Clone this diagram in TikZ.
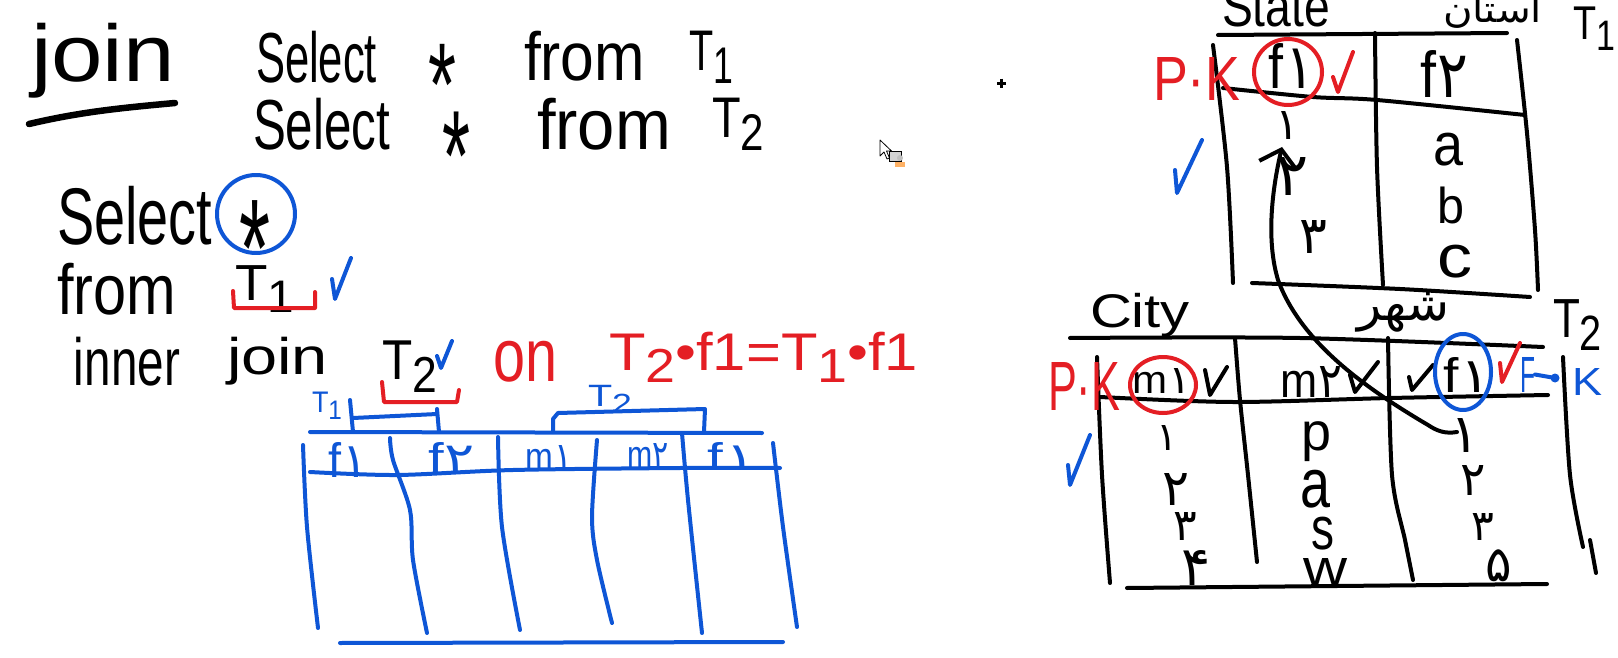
\documentclass[tikz,border=0pt]{standalone}
\usepackage{fontspec}
\usepackage{graphicx}
\setmainfont{Liberation Sans}
\newfontfamily\arabicfont[Script=Arabic]{DejaVu Sans}
\TeXXeTstate=1
\usetikzlibrary{arrows.meta}
\definecolor{inkred}{RGB}{228,30,36}
\definecolor{inkblue}{RGB}{14,86,214}
\newcommand\fitbox[3]{\resizebox*{#1pt}{#2pt}{#3}}
\newcommand\fith[2]{\resizebox*{!}{#1pt}{#2}}
\newcommand\astx{\raisebox{-0.44em}[0.28em][0pt]{*}}
\newcommand\pd[1]{{\arabicfont #1}}
\newcommand\one{{\arabicfont\kern0.04em ۱\kern-0.15em}}
\newcommand\two{{\arabicfont\kern0.02em ۲}}
\newcommand\lsub[1]{\raisebox{-0.22em}{\fontsize{9}{9}\selectfont #1}}
\begin{document}
\begin{tikzpicture}[x=1pt,y=-1pt,
  hw/.style={inner sep=0pt,outer sep=0pt,anchor=north west},
  dg/.style={inner sep=0pt,outer sep=0pt,anchor=center},
  pen/.style={line width=4pt,line cap=round,line join=round},
  rpen/.style={pen,draw=inkred},
  bpen/.style={pen,draw=inkblue},
  rtext/.style={hw,text=inkred},
  btext/.style={hw,text=inkblue}]
\useasboundingbox[fill=white] (0,0) rectangle (1618,658);

% ---------------- left: queries ----------------
\node[hw] (join) at (31,23) {\fitbox{144}{75}{join}};
\draw[pen,line width=6.5pt] (29,124) .. controls (80,112) and (120,108) .. (175,103);

\node[hw] (sel1) at (256,31) {\fitbox{121}{52}{Select}};
\node[hw] (ast1) at (428,41) {\fitbox{28}{33}{\astx}};
\node[hw] (from1) at (524,31) {\fitbox{121}{50}{from}};
\node[hw] (tone1) at (689,31) {\fitbox{44}{52}{T\lsub{1}}};

\node[hw] (sel2) at (253,98) {\fitbox{137}{52}{Select}};
\node[hw] (ast2) at (442,108) {\fitbox{28}{36}{\astx}};
\node[hw] (from2) at (537,98) {\fitbox{134}{52}{from}};
\node[hw] (ttwo2) at (712,98) {\fitbox{52}{52}{T\lsub{2}}};

\node[hw] (sel3) at (57,186) {\fitbox{155}{59}{Select}};
\node[hw] (ast3) at (239,196) {\fitbox{31}{39}{\astx}};
\draw[bpen] (256,214) circle[radius=39];

\node[hw] (from3) at (57,263) {\fitbox{119}{52}{from}};
\node[hw] (tone3) at (235,266) {\fitbox{59}{46}{T\lsub{1}}};
\draw[rpen] (233,291) -- (234,308) -- (315,308) -- (315,292);
\draw[bpen] (332,279) -- (335,299) -- (351,258);

\node[hw] (inner) at (74,337) {\fitbox{106}{49}{inner}};
\node[hw] (join2) at (227,337) {\fitbox{101}{48}{join}};
\node[hw] (ttwo4) at (382,341) {\fitbox{55}{51}{T\lsub{2}}};
\draw[bpen] (437,356) -- (441,368) -- (452,341);
\node[rtext] (on) at (493,341) {\fitbox{64}{41}{on}};
\node[rtext] (cond) at (609,332) {\fitbox{309}{50}{T\lsub{2}•f1=T\lsub{1}•f1}};
\draw[rpen] (382,382) -- (384,402) -- (457,402) -- (459,390);

% ---------------- blue joined table ----------------
\node[btext] (bTone) at (312,392) {\fitbox{30}{27}{T\lsub{1}}};
\draw[bpen] (350,400) -- (353,432);
\draw[bpen] (353,418) -- (437,414);
\draw[bpen] (437,409) -- (439,432);
\node[btext] (bTtwo) at (588,385) {\fitbox{44}{28}{T\lsub{2}}};
\draw[bpen] (553,432) -- (553,419) -- (558,413) -- (705,409) -- (704,432);

\draw[bpen] (310,432) -- (762,433);
\draw[bpen] plot[smooth] coordinates {(310,472) (397,475) (513,470) (680,468) (780,468)};
\node[btext] (bh1) at (328,442) {\fitbox{33}{35}{f\one}};
\node[btext] (bh2) at (428,442) {\fitbox{47}{30}{f\two}};
\node[btext] (bh3) at (525,445) {\fitbox{42}{25}{m\one}};
\node[btext] (bh4) at (627,443) {\fitbox{42}{25}{m\two}};
\node[btext] (bh5) at (707,442) {\fitbox{40}{28}{f\one}};
\draw[bpen] plot[smooth] coordinates {(303,445) (307,527) (318,628)};
\draw[bpen] plot[smooth] coordinates {(390,438) (393,460) (410,510) (413,560) (427,633)};
\draw[bpen] plot[smooth] coordinates {(498,437) (502,527) (520,630)};
\draw[bpen] plot[smooth] coordinates {(597,440) (592,517) (597,560) (612,623)};
\draw[bpen] plot[smooth] coordinates {(682,433) (688,500) (702,633)};
\draw[bpen] plot[smooth] coordinates {(773,443) (783,527) (797,627)};
\draw[bpen] (340,643) -- (783,642);

% ---------------- cursor and plus ----------------
\draw[line width=0.8pt,fill=white,line join=round] (880,140) -- (880,156) -- (884,152) -- (887,159) -- (889.5,158) -- (886.5,151) -- (891.5,151) -- cycle;
\draw[line width=0.6pt,fill=gray!35] (889,151) rectangle (901,161);
\fill[orange!60] (895,162) rectangle (905,167);
\fill[gray!50] (900,158) circle[radius=3];
\draw[line width=2.6pt] (997,83.3) -- (1006.4,83.3) (1001.7,78.6) -- (1001.7,88);

% ---------------- T1 table (right top) ----------------
\draw[pen] (1218,35) -- (1507,33);
\draw[pen] plot[smooth] coordinates {(1213,45) (1227,167) (1233,283)};
\draw[pen] plot[smooth] coordinates {(1375,33) (1377,167) (1383,285)};
\draw[pen] plot[smooth] coordinates {(1517,40) (1527,133) (1535,230) (1538,290)};
\draw[pen] plot[smooth] coordinates {(1223,88) (1313,97) (1377,100) (1525,115)};
\draw[pen] plot[smooth] coordinates {(1252,283) (1400,289) (1530,297)};

\node[hw] (state) at (1222,-13) {\fitbox{108}{40}{State}};
\node[hw] (ostan) at (1443,-6) {\fitbox{99}{34}{\arabicfont\beginR استان\endR}};
\node[hw] (tTone) at (1573,7) {\fitbox{42}{43}{T\lsub{1}}};
\node[rtext] (pkA) at (1153,57) {\fitbox{87}{43}{P·K}};
\node[hw] (hA1) at (1268,43) {\fitbox{38}{45}{f\one}};
\draw[rpen] (1288,72) ellipse[x radius=34,y radius=33];
\draw[rpen] (1333,77) -- (1338,92) -- (1353,52);
\node[hw] (hA2) at (1420,50) {\fitbox{48}{47}{f\two}};
\node[dg] (vA1) at (1287.5,126) {\fith{28}{\pd{۱}}};
\node[dg] (vA2) at (1293,177) {\fith{38}{\pd{۲}}};
\node[dg] (vA3) at (1313.5,236.5) {\fith{33}{\pd{۳}}};
\node[hw] (vAa) at (1433,133) {\fitbox{30}{33}{a}};
\node[hw] (vAb) at (1437,187) {\fitbox{27}{37}{b}};
\node[hw] (vAc) at (1437,245) {\fitbox{35}{33}{c}};
\draw[bpen] (1175,170) -- (1177,193) -- (1202,140);

% ---------------- T2 table (right bottom) ----------------
\draw[pen] plot[smooth] coordinates {(1070,338) (1300,338) (1543,347)};
\draw[pen] plot[smooth] coordinates {(1100,397) (1233,402) (1390,398) (1548,395)};
\draw[pen] plot[smooth] coordinates {(1097,357) (1102,475) (1110,583)};
\draw[pen] plot[smooth] coordinates {(1235,338) (1240,400) (1248,475) (1257,562)};
\draw[pen] plot[smooth] coordinates {(1388,338) (1392,475) (1405,540) (1413,580)};
\draw[pen] plot[smooth] coordinates {(1563,357) (1570,475) (1583,547)};
\draw[pen] (1590,540) -- (1596,573);
\draw[pen] (1127,588) -- (1547,584);

\node[hw] (city) at (1090,293) {\fitbox{100}{44}{City}};
\node[hw] (shahr) at (1357,292) {\fitbox{93}{40}{\arabicfont\beginR شهر\endR}};
\node[hw] (tTtwo) at (1553,300) {\fitbox{49}{50}{T\lsub{2}}};
\node[rtext] (pkB) at (1048,362) {\fitbox{72}{48}{P·K}};
\node[hw] (hB1) at (1132,368) {\fitbox{53}{25}{m\one}};
\draw[rpen] (1163,385) ellipse[x radius=33,y radius=28];
\draw[pen] (1205,370) -- (1210,395) -- (1227,367);
\node[hw] (hB2) at (1280,366) {\fitbox{62}{31}{m\two}};
\draw[pen] (1350,375) -- (1355,392) -- (1378,362);
\draw[pen] (1409,377) -- (1412,390) -- (1433,365);
\node[hw] (hB3) at (1443,357) {\fitbox{39}{35}{f\one}};
\draw[bpen] (1463,372) ellipse[x radius=28,y radius=38];
\draw[rpen] (1500,363) -- (1502,382) -- (1520,343);
\node[btext] (fkF) at (1520,357) {\fitbox{15}{35}{F}};
\node[btext] (fkK) at (1572,368) {\fitbox{30}{27}{K}};
\coordinate (fkdot) at (1555,378);
\draw[bpen] (fkF.east) -- (fkdot);
\fill[inkblue] (fkdot) circle[radius=4.5];
\draw[bpen] (1068,465) -- (1070,485) -- (1090,435);

\node[dg] (vB1) at (1167,437.5) {\fith{25}{\pd{۱}}};
\node[dg] (vB2) at (1176.5,489) {\fith{32}{\pd{۲}}};
\node[dg] (vB3) at (1185.5,526) {\fith{28}{\pd{۳}}};
\node[dg] (vB4) at (1196,567.5) {\fith{35}{\pd{۴}}};
\node[hw] (vC1) at (1301,422) {\fitbox{30}{40}{p}};
\node[hw] (vC2) at (1300,470) {\fitbox{30}{38}{a}};
\node[hw] (vC3) at (1311,517) {\fitbox{23}{33}{s}};
\node[hw] (vC4) at (1303,558) {\fitbox{44}{27}{w}};
\node[dg] (vD1) at (1465,435) {\fith{34}{\pd{۱}}};
\node[dg] (vD2) at (1473.5,480) {\fith{30}{\pd{۲}}};
\node[dg] (vD3) at (1482.5,526.5) {\fith{27}{\pd{۳}}};
\node[dg] (vD4) at (1499,566) {\fith{32}{\pd{۵}}};

% ---------------- arrow T2.f1 -> T1.f1 ----------------
\coordinate (arrS) at (1457,432);
\coordinate (arrE) at (1282,147);
\draw[pen,-{Straight Barb[length=16pt,width=38pt]}] (arrS) .. controls (1445,434) and (1437,431) .. (1428,425)
  .. controls (1360,385) and (1300,340) .. (1278,280)
  .. controls (1266,240) and (1272,190) .. (arrE);
\end{tikzpicture}
\end{document}
